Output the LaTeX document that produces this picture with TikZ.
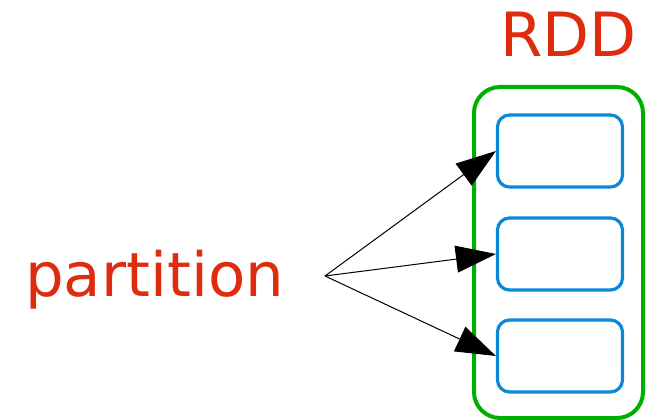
\documentclass[tikz,border=0pt]{standalone}
\usepackage{fontspec}
\setmainfont{DejaVu Sans}
\usetikzlibrary{arrows.meta}
\definecolor{labelred}{HTML}{DD2C0E}
\definecolor{rddgreen}{HTML}{00B000}
\definecolor{partblue}{HTML}{0A88D8}
\tikzset{
  labeltext/.style={text=labelred, font=\fontsize{61}{61}\selectfont, inner sep=0pt, anchor=base west},
  rddbox/.style={draw=rddgreen, line width=4pt, rounded corners=26pt},
  partbox/.style={draw=partblue, line width=3.2pt, rounded corners=12pt, minimum width=125pt, minimum height=72pt, inner sep=0pt},
  feed/.style={draw=black, line width=1pt, -{Triangle[length=40pt,width=27pt]}, shorten >=0pt}
}
\begin{document}
\begin{tikzpicture}[x=1pt,y=-1pt]
  \useasboundingbox (0,0) rectangle (646,420);
  % container
  \draw[rddbox] (474,87) rectangle (643,418);
  \node[labeltext] (rdd) at (500,57) {RDD};
  % partitions
  \node[partbox] (p1) at (560,151) {};
  \node[partbox] (p2) at (560,254) {};
  \node[partbox] (p3) at (560,356) {};
  % label and its connectors
  \node[labeltext] (lbl) at (25,296) {partition};
  \coordinate (src) at (325,276);
  \draw[feed] (src) -- (p1.west);
  \draw[feed] (src) -- (p2.west);
  \draw[feed] (src) -- (p3.west);
\end{tikzpicture}
\end{document}
